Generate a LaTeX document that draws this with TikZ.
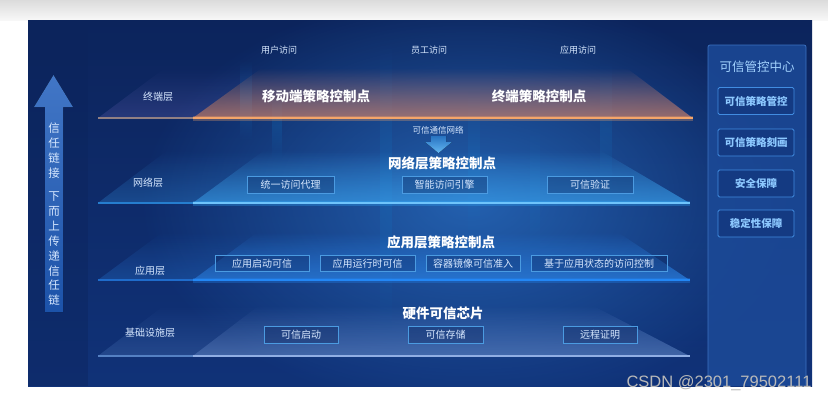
\documentclass[tikz,border=0pt]{standalone}
\usepackage{fontspec}
\setmainfont{Liberation Sans}
\newfontfamily\cjk{Noto Sans CJK SC}
\usetikzlibrary{fadings}
\definecolor{bgtop}{RGB}{12,36,92}
\definecolor{bgmid}{RGB}{26,82,162}
\definecolor{bgbot}{RGB}{16,50,120}
\definecolor{glowc}{RGB}{45,120,205}
\definecolor{orline}{RGB}{245,165,105}
\definecolor{orfill}{RGB}{225,135,90}
\definecolor{netline}{RGB}{50,170,250}
\definecolor{netfill}{RGB}{60,165,240}
\definecolor{appline}{RGB}{35,135,245}
\definecolor{appfill}{RGB}{45,135,235}
\definecolor{infline}{RGB}{145,175,228}
\definecolor{inffill}{RGB}{120,155,215}
\definecolor{boxedge}{RGB}{75,155,225}
\definecolor{boxtext}{RGB}{215,232,255}
\definecolor{sidefill}{RGB}{28,74,152}
\definecolor{sideedge}{RGB}{60,115,195}
\definecolor{sbfill}{RGB}{20,58,130}
\definecolor{sbedge}{RGB}{65,140,225}
\definecolor{sbtext}{RGB}{140,200,255}
\definecolor{arrowc}{RGB}{32,94,188}
\tikzfading[name=fadeup, top color=transparent!100, bottom color=transparent!0]
\tikzfading[name=fadebar, top color=transparent!100, bottom color=transparent!100, middle color=transparent!0]
\tikzfading[name=glowfade, inner color=transparent!0, outer color=transparent!100]
\tikzset{
  small/.style={font=\cjk\fontsize{9}{11}\selectfont, text=boxtext, inner sep=0},
  layerlbl/.style={font=\cjk\fontsize{10}{12}\selectfont, text=boxtext, inner sep=0},
  head/.style={font=\cjk\bfseries\fontsize{13.5}{16}\selectfont, text=white, inner sep=0},
  lbox/.style={draw=boxedge, line width=0.8pt, fill=bgtop, fill opacity=0.35, text opacity=1,
    font=\cjk\fontsize{10}{12}\selectfont, text=boxtext, inner sep=0, minimum height=16.5pt},
  sbox/.style={draw=sbedge, line width=0.9pt, fill=sbfill, rounded corners=1.5pt,
    font=\cjk\bfseries\fontsize{10.5}{12}\selectfont, text=sbtext, inner sep=0,
    minimum width=76pt, minimum height=27pt},
  vtext/.style={font=\cjk\fontsize{11.5}{14.9}\selectfont, text=boxtext, align=center, inner sep=0},
}
\begin{document}
\begin{tikzpicture}[x=1pt,y=-1pt]
\useasboundingbox (0,0) rectangle (828,400);
% page background
\fill[white] (0,0) rectangle (828,400);
\shade[top color=gray!28, bottom color=gray!6] (0,0) rectangle (828,20);
% panel
\shade[top color=bgtop, middle color=bgmid, bottom color=bgbot] (28,20) rectangle (812,386);
\begin{scope}
\clip (28,20) rectangle (812,386);
\fill[glowc, path fading=glowfade, fill opacity=0.7] (470,200) ellipse (330 and 210);
\fill[bgtop, fill opacity=0.4] (28,20) rectangle (88,386);
% faint vertical bars
\fill[cyan!60!blue, path fading=fadebar, fill opacity=0.25] (240,60) rectangle (252,140);
\fill[cyan!60!blue, path fading=fadebar, fill opacity=0.22] (272,90) rectangle (282,160);
\fill[cyan!60!blue, path fading=fadebar, fill opacity=0.22] (380,40) rectangle (392,330);
\fill[cyan!60!blue, path fading=fadebar, fill opacity=0.2] (468,90) rectangle (480,240);
\fill[cyan!60!blue, path fading=fadebar, fill opacity=0.18] (530,120) rectangle (540,260);
\fill[cyan!60!blue, path fading=fadebar, fill opacity=0.18] (600,60) rectangle (612,200);
\end{scope}

% ---------- Terminal layer ----------
\fill[gray!70!blue, path fading=fadeup, fill opacity=0.35] (98,118) -- (165,68) -- (627,68) -- (693,118) -- cycle;
\fill[orfill, path fading=fadeup, fill opacity=0.6] (193,118) -- (262,68) -- (627,68) -- (693,118) -- cycle;
\draw[orline!55!bgmid, line width=2pt] (98,118) -- (193,118);
\draw[orline, line width=5pt, opacity=0.3] (193,118) -- (693,118);
\draw[orline, line width=2.2pt] (193,118) -- (693,118);

% ---------- Network layer ----------
\fill[netfill!60!bgmid, path fading=fadeup, fill opacity=0.35] (98,203) -- (168,150) -- (600,150) -- (690,203) -- cycle;
\fill[netfill, path fading=fadeup, fill opacity=0.55] (193,203) -- (265,150) -- (600,150) -- (690,203) -- cycle;
\draw[netline!50!bgmid, line width=2pt] (98,203) -- (193,203);
\draw[netline, line width=5pt, opacity=0.3] (193,203) -- (690,203);
\draw[netline!70!white, line width=2.2pt] (193,203) -- (690,203);

% ---------- Application layer ----------
\fill[appfill!60!bgmid, path fading=fadeup, fill opacity=0.35] (98,280) -- (163,232) -- (618,232) -- (690,280) -- cycle;
\fill[appfill, path fading=fadeup, fill opacity=0.55] (193,280) -- (258,232) -- (618,232) -- (690,280) -- cycle;
\draw[appline!50!bgmid, line width=2pt] (98,280) -- (193,280);
\draw[appline, line width=5pt, opacity=0.3] (193,280) -- (690,280);
\draw[appline, line width=2.2pt] (193,280) -- (690,280);

% ---------- Infrastructure layer ----------
\fill[inffill!60!bgmid, path fading=fadeup, fill opacity=0.3] (98,356) -- (165,305) -- (592,305) -- (690,356) -- cycle;
\fill[inffill, path fading=fadeup, fill opacity=0.35] (193,356) -- (260,305) -- (592,305) -- (690,356) -- cycle;
\draw[infline!50!bgmid, line width=2pt] (98,356) -- (193,356);
\draw[infline, line width=2pt] (193,356) -- (690,356);

% ---------- Top labels ----------
\node[small] (ua) at (279,50) {用户访问};
\node[small] (ea) at (429,50) {员工访问};
\node[small] (aa) at (578,50) {应用访问};

% layer labels
\node[layerlbl] (l1) at (158,97) {终端层};
\node[layerlbl] (l2) at (148,183) {网络层};
\node[layerlbl] (l3) at (150,271) {应用层};
\node[layerlbl] (l4) at (150,333) {基础设施层};

% headings
\node[head] (h1a) at (316,96) {移动端策略控制点};
\node[head] (h1b) at (539,96) {终端策略控制点};
\node[head] (h2) at (442,163) {网络层策略控制点};
\node[head] (h3) at (441,242) {应用层策略控制点};
\node[head] (h4) at (443,313) {硬件可信芯片};

% trusted network label + arrow
\node[small, font=\cjk\fontsize{8.5}{10}\selectfont] (tn) at (438,130) {可信通信网络};
\fill[top color=netfill!40!bgmid, bottom color=netfill!80!white] (431,136) -- (446,136) -- (446,142) -- (452,142) -- (438.5,153) -- (425,142) -- (431,142) -- cycle;

% network boxes
\node[lbox, minimum width=87pt] (n1) at (290.5,185) {统一访问代理};
\node[lbox, minimum width=85pt] (n2) at (444.5,185) {智能访问引擎};
\node[lbox, minimum width=86pt] (n3) at (590,185) {可信验证};

% application boxes
\node[lbox, minimum width=94pt] (a1) at (262,263.5) {应用启动可信};
\node[lbox, minimum width=95pt] (a2) at (367.5,263.5) {应用运行时可信};
\node[lbox, minimum width=94pt] (a3) at (473,263.5) {容器镜像可信准入};
\node[lbox, minimum width=136pt] (a4) at (599,263.5) {基于应用状态的访问控制};

% infrastructure boxes
\node[lbox, minimum width=74pt] (i1) at (301,335) {可信启动};
\node[lbox, minimum width=75pt] (i2) at (445.5,335) {可信存储};
\node[lbox, minimum width=74pt] (i3) at (600,335) {远程证明};

% ---------- Left arrow ----------
\fill[top color=arrowc!85!white, bottom color=arrowc!80!bgtop]
  (45,312) -- (45,107) -- (34,107) -- (53.5,75) -- (73,107) -- (63,107) -- (63,312) -- cycle;
\node[vtext] (v1) at (54,150.7) {信\\任\\链\\接};
\node[vtext] (v2) at (54,248.7) {下\\而\\上\\传\\递\\信\\任\\链};

% ---------- Right sidebar ----------
\fill[sidefill, fill opacity=0.85, rounded corners=2pt] (708,45) rectangle (806,386);
\draw[sideedge, line width=0.7pt, rounded corners=2pt] (806,386) -- (806,45) -- (708,45) -- (708,386);
\node[font=\cjk\fontsize{12.5}{14}\selectfont, text=sbtext!80!white, inner sep=0] (st) at (757,67) {可信管控中心};
\node[sbox] (s1) at (756,101) {可信策略管控};
\node[sbox] (s2) at (756,142.5) {可信策略刻画};
\node[sbox] (s3) at (756,183.5) {安全保障};
\node[sbox] (s4) at (756,223.5) {稳定性保障};

% watermark
\node[font=\fontsize{16.5}{18}\selectfont, text=gray!55, inner sep=0] (wm) at (719,383) {CSDN @2301\_79502111};
\end{tikzpicture}
\end{document}
